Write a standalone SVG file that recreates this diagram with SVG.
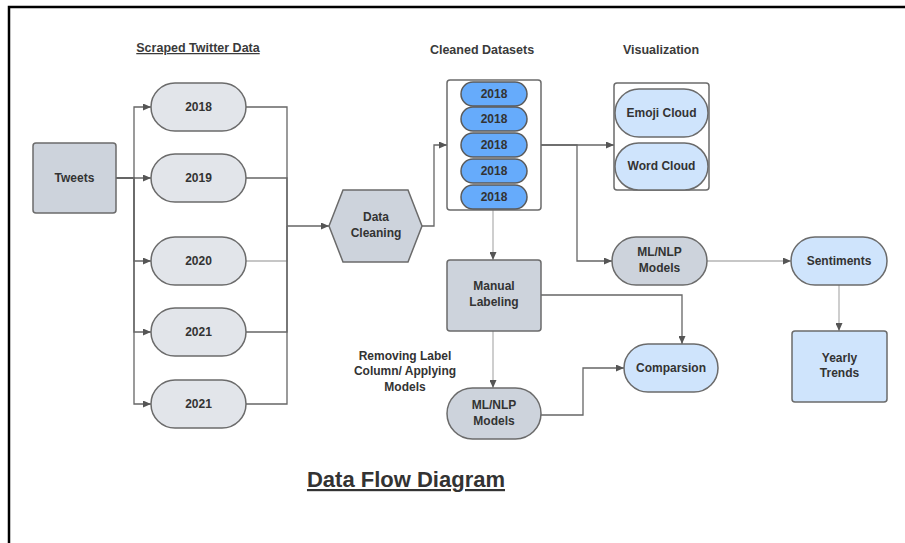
<svg xmlns="http://www.w3.org/2000/svg" width="905" height="543" viewBox="0 0 905 543">
  <style>
    .gray { fill:#cdd3dc; stroke:#6b6b6b; stroke-width:1.5; }
    .year { fill:#e2e5ea; stroke:#6b6b6b; stroke-width:1.5; }
    .blue { fill:#cfe4fc; stroke:#6b6b6b; stroke-width:1.5; }
    .ds   { fill:#66abfb; stroke:#5a5a5a; stroke-width:1.5; }
    .box  { fill:#ffffff; stroke:#6b6b6b; stroke-width:1.5; }
    .lbl  { font-family:"Liberation Sans", Arial, sans-serif; font-weight:bold; font-size:12px; fill:#333333; text-anchor:middle; }
    .head { font-family:"Liberation Sans", Arial, sans-serif; font-weight:bold; font-size:12.5px; fill:#3a3a3a; text-anchor:middle; }
    .edge { fill:none; stroke:#666666; stroke-width:1.3; }
    .soft { stroke:#b4b4b4; }
  </style>
  <defs>
    <marker id="arrow" viewBox="0 0 8 7" refX="8" refY="3.5" markerWidth="8" markerHeight="7" markerUnits="userSpaceOnUse" orient="auto">
      <path d="M0,0 L8,3.5 L0,7 z" fill="#555555"/>
    </marker>
  </defs>

  <rect width="905" height="543" fill="#ffffff"/>

  <!-- page frame -->
  <path d="M9,543 V7 H905" fill="none" stroke="#000000" stroke-width="2.5"/>

  <!-- section headings -->
  <text class="head" x="198" y="52" text-decoration="underline">Scraped Twitter Data</text>
  <text class="head" x="482" y="54">Cleaned Datasets</text>
  <text class="head" x="661" y="54">Visualization</text>

  <!-- connectors -->
  <g id="connectors">
    <path class="edge" marker-end="url(#arrow)" d="M116,178 H134 V107 H151"/>
    <path class="edge" marker-end="url(#arrow)" d="M116,178 H151"/>
    <path class="edge" marker-end="url(#arrow)" d="M116,178 H134 V261 H151"/>
    <path class="edge" marker-end="url(#arrow)" d="M116,178 H134 V332 H151"/>
    <path class="edge" marker-end="url(#arrow)" d="M116,178 H134 V404 H151"/>

    <path class="edge" marker-end="url(#arrow)" d="M246,107 H287 V226 H329"/>
    <path class="edge" d="M246,178 H287 V226"/>
    <path class="edge soft" d="M246,261 H287 V226"/>
    <path class="edge" d="M246,332 H287 V226"/>
    <path class="edge" d="M246,404 H287 V226"/>

    <path class="edge" marker-end="url(#arrow)" d="M422,226 H434 V145 H447"/>
    <path class="edge" marker-end="url(#arrow)" d="M541,145 H614"/>
    <path class="edge" marker-end="url(#arrow)" d="M541,145 H577 V261 H612"/>
    <path class="edge soft" marker-end="url(#arrow)" d="M707,261 H791"/>
    <path class="edge soft" marker-end="url(#arrow)" d="M839,285 V331"/>
    <path class="edge soft" marker-end="url(#arrow)" d="M493,210 V260"/>
    <path class="edge" marker-end="url(#arrow)" d="M541,295 H682 V344"/>
    <path class="edge soft" marker-end="url(#arrow)" d="M493,331 V388"/>
    <path class="edge" marker-end="url(#arrow)" d="M541,415 H583 V368 H624"/>
  </g>

  <g id="tweets">
    <rect class="gray" x="33" y="143" width="83" height="70" rx="3"/>
    <text class="lbl" x="74.5" y="182">Tweets</text>
  </g>

  <g id="y2018">
    <rect class="year" x="151" y="83" width="95" height="48" rx="24"/>
    <text class="lbl" x="198.5" y="111">2018</text>
  </g>
  <g id="y2019">
    <rect class="year" x="151" y="154" width="95" height="48" rx="24"/>
    <text class="lbl" x="198.5" y="182">2019</text>
  </g>
  <g id="y2020">
    <rect class="year" x="151" y="237" width="95" height="48" rx="24"/>
    <text class="lbl" x="198.5" y="265">2020</text>
  </g>
  <g id="y2021a">
    <rect class="year" x="151" y="308" width="95" height="48" rx="24"/>
    <text class="lbl" x="198.5" y="336">2021</text>
  </g>
  <g id="y2021b">
    <rect class="year" x="151" y="380" width="95" height="48" rx="24"/>
    <text class="lbl" x="198.5" y="408">2021</text>
  </g>

  <g id="data-cleaning">
    <polygon class="gray" points="329,226 343,190 408,190 422,226 408,262 343,262"/>
    <text class="lbl" x="376" y="221">Data</text>
    <text class="lbl" x="376" y="237">Cleaning</text>
  </g>

  <g id="cleaned-datasets">
    <rect class="box" x="447" y="80" width="94" height="130" rx="3"/>
    <rect class="ds" x="461" y="82" width="66" height="24" rx="12"/>
    <text class="lbl" x="494" y="98">2018</text>
    <rect class="ds" x="461" y="107" width="66" height="24" rx="12"/>
    <text class="lbl" x="494" y="123">2018</text>
    <rect class="ds" x="461" y="133" width="66" height="24" rx="12"/>
    <text class="lbl" x="494" y="149">2018</text>
    <rect class="ds" x="461" y="159" width="66" height="24" rx="12"/>
    <text class="lbl" x="494" y="175">2018</text>
    <rect class="ds" x="461" y="185" width="66" height="24" rx="12"/>
    <text class="lbl" x="494" y="201">2018</text>
  </g>

  <g id="visualization">
    <rect class="box" x="614" y="83" width="95" height="107" rx="3"/>
    <rect class="blue" x="615" y="89" width="93" height="48" rx="24"/>
    <text class="lbl" x="661.5" y="117">Emoji Cloud</text>
    <rect class="blue" x="615" y="143" width="93" height="47" rx="23.5"/>
    <text class="lbl" x="661.5" y="170">Word Cloud</text>
  </g>

  <g id="ml-models-top">
    <rect class="gray" x="612" y="237" width="95" height="48" rx="24"/>
    <text class="lbl" x="659.5" y="256">ML/NLP</text>
    <text class="lbl" x="659.5" y="272">Models</text>
  </g>

  <g id="sentiments">
    <rect class="blue" x="791" y="237" width="96" height="48" rx="24"/>
    <text class="lbl" x="839" y="265">Sentiments</text>
  </g>

  <g id="yearly-trends">
    <rect class="blue" x="792" y="331" width="95" height="71" rx="3"/>
    <text class="lbl" x="839.5" y="362">Yearly</text>
    <text class="lbl" x="839.5" y="377">Trends</text>
  </g>

  <g id="manual-labeling">
    <rect class="gray" x="447" y="260" width="94" height="71" rx="3"/>
    <text class="lbl" x="494" y="290">Manual</text>
    <text class="lbl" x="494" y="306">Labeling</text>
  </g>

  <g id="comparsion">
    <rect class="blue" x="624" y="344" width="94" height="48" rx="24"/>
    <text class="lbl" x="671" y="372">Comparsion</text>
  </g>

  <g id="ml-models-bottom">
    <rect class="gray" x="447" y="388" width="94" height="51" rx="25.5"/>
    <text class="lbl" x="494" y="409">ML/NLP</text>
    <text class="lbl" x="494" y="425">Models</text>
  </g>

  <g id="removing-label-note">
    <text class="lbl" x="405" y="360">Removing Label</text>
    <text class="lbl" x="405" y="375">Column/ Applying</text>
    <text class="lbl" x="405" y="391">Models</text>
  </g>

  <text x="406" y="487" font-family="'Liberation Sans', Arial, sans-serif" font-weight="bold" font-size="22" fill="#333333" text-anchor="middle" text-decoration="underline">Data Flow Diagram</text>
</svg>
